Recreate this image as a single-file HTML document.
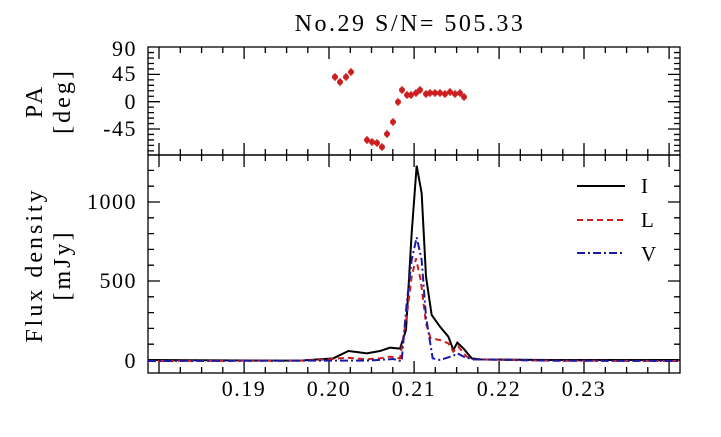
<!DOCTYPE html>
<html><head><meta charset="utf-8"><style>body{margin:0;background:#fff}svg{display:block}svg text{font-family:"Liberation Serif","Times New Roman","Nimbus Roman","DejaVu Serif",serif}</style></head><body>
<svg width="721" height="437" viewBox="0 0 721 437" xmlns="http://www.w3.org/2000/svg">
<rect width="721" height="437" fill="#fff"/>
<text x="410" y="31" font-size="24" text-anchor="middle" letter-spacing="2.5">No.29    S/N= 505.33</text>
<g stroke="#000" stroke-width="1.3" fill="none">
<rect x="148" y="47" width="532" height="108"/>
<rect x="148" y="155" width="532" height="218"/>
<path id="tk"/>
</g>
<g font-size="22" text-anchor="end" letter-spacing="1.5">
<text x="137" y="56">90</text><text x="137" y="81">45</text><text x="137" y="109">0</text><text x="137" y="136">-45</text>
<text x="137" y="209">1000</text><text x="137" y="288">500</text><text x="137" y="368">0</text>
</g>
<g font-size="22" text-anchor="middle" letter-spacing="1.5">
<text x="244" y="396">0.19</text><text x="329" y="396">0.20</text><text x="414" y="396">0.21</text><text x="499" y="396">0.22</text><text x="584" y="396">0.23</text>
</g>
<g font-size="24" text-anchor="middle" letter-spacing="3">
<text transform="translate(42,101) rotate(-90)">PA</text>
<text transform="translate(70,101) rotate(-90)">[deg]</text>
<text transform="translate(42,265) rotate(-90)">Flux density</text>
<text transform="translate(70,265) rotate(-90)">[mJy]</text>
</g>
<g id="pa" fill="#cc1f1f" stroke="#cc1f1f" stroke-width="1.2"></g>
<g fill="none" stroke-width="2">
<polyline id="I" stroke="#000"/>
<polyline id="L" stroke="#cc1f1f" stroke-dasharray="6,4"/>
<polyline id="V" stroke="#1a1aa8" stroke-dasharray="8,3,2,3"/>
</g>
<line x1="577" y1="186" x2="625" y2="186" stroke="#000" stroke-width="2"/>
<line x1="577" y1="220" x2="625" y2="220" stroke="#cc1f1f" stroke-width="2" stroke-dasharray="6,4"/>
<line x1="577" y1="253" x2="625" y2="253" stroke="#1a1aa8" stroke-width="2" stroke-dasharray="8,3,2,3"/>
<g font-size="21"><text x="641" y="193">I</text><text x="641" y="227">L</text><text x="641" y="261">V</text></g>
<script>
var NS="http://www.w3.org/2000/svg";
var d="";
for(var i=0;i<30;i++){var v=0.18+i*0.0025;var x=148+(v-0.1787)*8500;x=Math.round(x*10)/10;if(x<149||x>679)continue;
var maj=(i%4==0);var L=maj?12:6;
d+="M"+x+" 47v"+L+"M"+x+" 155v-"+L+"M"+x+" 155v"+L+"M"+x+" 373v-"+L;}
for(var a=-81;a<=81;a+=9){var y=101.7-a*27.3/45;var L=(a%45==0)?12:6;d+="M148 "+y+"h"+L+"M680 "+y+"h-"+L;}
for(var f=0;f<=1300;f+=100){var y=360-f*0.158;if(y<157)continue;var L=(f%500==0)?12:6;d+="M148 "+y+"h"+L+"M680 "+y+"h-"+L;}
document.getElementById("tk").setAttribute("d",d);
function pts(a){return a.map(function(p){return (300+p[0]/3)+","+(150+p[1]/3)}).join(" ")}
document.getElementById("I").setAttribute("points","148,360 "+pts([[0,632],[100,625],[145,603],[170,606],[200,610],[240,603],[270,593],[300,596],[318,540],[335,250],[350,47],[365,130],[378,380],[395,495],[420,530],[445,560],[460,600],[472,578],[490,595],[515,625],[540,628],[750,630]])+" 680,360");
document.getElementById("L").setAttribute("points","148,361 "+pts([[0,632],[90,628],[140,623],[200,628],[240,625],[270,620],[300,625],[320,500],[335,380],[348,325],[362,390],[378,520],[392,565],[420,570],[445,580],[460,605],[475,590],[500,620],[520,628],[750,632]])+" 680,361");
document.getElementById("V").setAttribute("points","148,361 "+pts([[0,632],[200,632],[280,627],[305,634],[320,460],[335,330],[350,262],[365,330],[378,500],[398,625],[420,630],[460,617],[472,610],[495,622],[520,628],[750,632]])+" 680,361");
var P=[[335,77],[340,82],[346,77],[351,72],[367,140],[372,142],[377,143],[382,147],[387,134],[393,122],[398,102],[402,90],[407,95],[411,95],[416,93],[420,90],[426,94],[430,93],[435,93],[440,93],[445,94],[450,92],[455,94],[460,93],[464,97]];
var g=document.getElementById("pa");
P.forEach(function(p){var c=document.createElementNS(NS,"circle");c.setAttribute("cx",p[0]);c.setAttribute("cy",p[1]);c.setAttribute("r","2.4");g.appendChild(c);
var l=document.createElementNS(NS,"line");l.setAttribute("x1",p[0]);l.setAttribute("x2",p[0]);l.setAttribute("y1",p[1]-4);l.setAttribute("y2",p[1]+4);g.appendChild(l);});
</script>
</svg>
</body></html>
